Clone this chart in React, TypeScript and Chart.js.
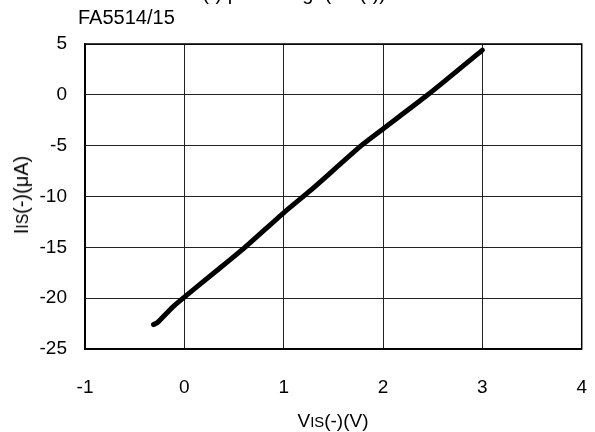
import React, { useEffect, useRef } from "react";
import { Chart, registerables } from "chart.js";

Chart.register(...registerables);

const voltage = [-0.31, -0.27, -0.22, -0.12, 0, 0.3, 0.61, 1.0, 1.27, 1.78, 2.0, 2.45, 3.0];
const current = [-22.6, -22.4, -21.9, -20.9, -19.9, -17.5, -15.0, -11.6, -9.4, -5.0, -3.35, 0.0, 4.4];
const xTicks = [-1, 0, 1, 2, 3, 4];
const yTicks = [-25, -20, -15, -10, -5, 0, 5];

const FONT = "'Liberation Sans', Arial, Helvetica, sans-serif";
const CW = 614;

export default function App() {
  const ref = useRef<HTMLCanvasElement | null>(null);

  useEffect(() => {
    if (!ref.current) return;
    const chart = new Chart(ref.current, {
      type: "scatter",
      data: {
        datasets: [
          {
            data: voltage.map((v, i) => ({ x: v, y: current[i] })),
            showLine: true,
            borderColor: "#000",
            borderWidth: 5,
            borderCapStyle: "round",
            borderJoinStyle: "round",
            pointRadius: 0,
            tension: 0.2,
          },
        ],
      },
      options: {
        responsive: false,
        animation: false,
        devicePixelRatio: 1,
        layout: { padding: { top: 44, right: 0, bottom: 0, left: 0 } },
        plugins: { legend: { display: false }, tooltip: { enabled: false }, title: { display: false } },
        scales: {
          x: {
            type: "linear",
            min: xTicks[0],
            max: xTicks[xTicks.length - 1],
            afterBuildTicks: (s: any) => {
              s.ticks = xTicks.map((v) => ({ value: v }));
            },
            afterFit: (s: any) => {
              s.height = 83;
            },
            grid: { color: "#222", lineWidth: 1, drawTicks: false },
            border: { color: "#000", width: 1.5 },
            ticks: { color: "#000", padding: 27, font: { family: FONT, size: 19 }, maxRotation: 0 },
          },
          y: {
            type: "linear",
            min: yTicks[0],
            max: yTicks[yTicks.length - 1],
            afterBuildTicks: (s: any) => {
              s.ticks = yTicks.map((v) => ({ value: v }));
            },
            afterFit: (s: any) => {
              s.width = 85;
            },
            grid: { color: "#222", lineWidth: 1, drawTicks: false },
            border: { color: "#000", width: 1.5 },
            ticks: { color: "#000", padding: 18, font: { family: FONT, size: 19 } },
          },
        },
      },
      plugins: [
        {
          id: "frame",
          afterDraw: (c: any) => {
            const { ctx, chartArea: a } = c;
            ctx.save();
            ctx.strokeStyle = "#000";
            ctx.lineWidth = 1.5;
            ctx.strokeRect(a.left, a.top, a.right - a.left, a.bottom - a.top);
            ctx.restore();
          },
        },
      ],
    } as any);
    return () => chart.destroy();
  }, []);

  const small = { fontSize: "0.78em" };

  return (
    <div
      style={{
        position: "fixed",
        left: 0,
        top: 0,
        width: 595,
        height: 432,
        overflow: "hidden",
        background: "#fff",
        fontFamily: FONT,
        color: "#000",
      }}
    >
      <canvas ref={ref} width={CW} height={432} style={{ position: "absolute", left: 0, top: 0, width: CW, height: 432 }} />
      <div style={{ position: "absolute", left: 182, top: -18, fontSize: 20, whiteSpace: "nowrap", lineHeight: "23px" }}>
        I<span style={small}>IS</span>(-) pin voltage(V<span style={small}>IS</span>(-))
      </div>
      <div style={{ position: "absolute", left: 78, top: 6, fontSize: 20, whiteSpace: "nowrap", lineHeight: "22px" }}>
        FA5514/15
      </div>
      <div
        style={{
          position: "absolute",
          left: 333,
          top: 421,
          transform: "translate(-50%, -50%)",
          fontSize: 19,
          whiteSpace: "nowrap",
          lineHeight: "22px",
        }}
      >
        V<span style={small}>IS</span>(-)(V)
      </div>
      <div
        style={{
          position: "absolute",
          left: 22,
          top: 195,
          transform: "translate(-50%, -50%) rotate(-90deg)",
          fontSize: 20,
          whiteSpace: "nowrap",
          lineHeight: "22px",
        }}
      >
        I<span style={small}>IS</span>(-)(μA)
      </div>
    </div>
  );
}
